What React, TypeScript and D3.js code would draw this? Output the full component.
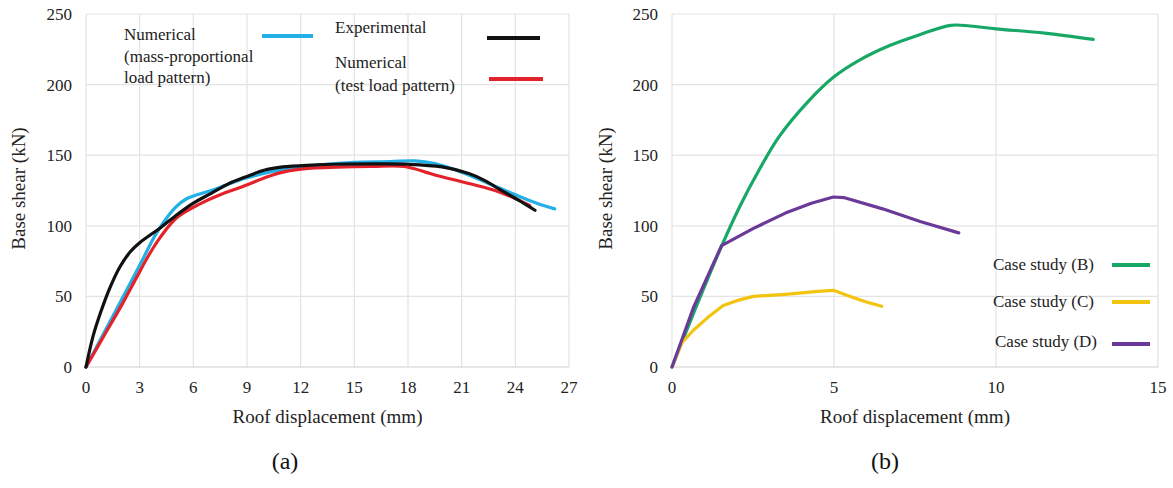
import React from "react";
import * as d3 from "d3";

// ---------- Data: chart (a) ----------
const expX = [0, 0.4, 0.8, 1.3, 1.9, 2.5, 3.0, 4.2, 5.0, 6.0, 7.0, 8.0, 9.0, 10.0, 11.0, 12.6, 14, 16, 18, 19.9, 21.4, 22.3, 23.1, 24.2, 25.1];
const expY = [0, 22, 38, 55, 71, 82, 88, 99, 107, 116, 123, 130, 135, 139.5, 141.7, 143, 143.6, 143.8, 143.6, 141.7, 137, 132, 126, 118, 111];

const massX = [0, 1, 2, 3, 4, 5, 5.6, 7, 9, 11, 13, 15, 17, 18.4, 19.5, 21, 22.5, 24, 25.2, 26.2];
const massY = [0, 24, 48, 72, 96, 113, 119, 125, 134, 140, 143, 145, 145.5, 146, 144, 138, 130, 122, 116, 112];

const testX = [0, 1, 2, 2.85, 3.5, 4.16, 5.1, 6.4, 7.5, 8.8, 10, 11, 12.6, 14, 16, 17.8, 19.5, 21.4, 23.1, 24.8];
const testY = [0, 22, 44, 64, 79, 92, 106, 115.7, 122, 128, 134, 138, 140.8, 141.5, 142, 142, 136, 130, 124, 114.5];

const xTicksA = [0, 3, 6, 9, 12, 15, 18, 21, 24, 27];
const yTicks = [0, 50, 100, 150, 200, 250];

// ---------- Data: chart (b) ----------
const bX = [0, 0.7, 1.5, 2.1, 2.7, 3.3, 4.2, 5.0, 5.8, 6.7, 7.6, 8.6, 9.2, 10, 11.5, 13.0];
const bY = [0, 40, 84, 114, 140, 163, 188, 205.5, 217.5, 227.5, 235, 242, 241.5, 239.5, 236.5, 232];

const cX = [0, 0.3, 0.66, 1.1, 1.58, 2.0, 2.51, 3.5, 4.5, 4.98, 5.5, 6.0, 6.47];
const cY = [0, 17, 26, 35, 43.6, 47, 50, 51.5, 53.5, 54.3, 50, 46, 43];

const dX = [0, 0.66, 1.53, 2.5, 3.5, 4.3, 4.98, 5.3, 6.5, 7.66, 8.85];
const dY = [0, 42, 86, 98, 109, 116, 120.4, 120, 112, 103, 95];

const xTicksB = [0, 5, 10, 15];

const FONT = "Liberation Serif, Times New Roman, Times, DejaVu Serif, serif";

type Series = { name: string; xs: number[]; ys: number[]; color: string; curve: d3.CurveFactory };

function Panel(props: {
  left: number; right: number; top: number; bottom: number;
  xMax: number; xTicks: number[]; series: Series[]; yTitleX: number;
}) {
  const { left, right, top, bottom, xMax, xTicks, series, yTitleX } = props;
  const x = d3.scaleLinear().domain([0, xMax]).range([left, right]);
  const y = d3.scaleLinear().domain([0, 250]).range([bottom, top]);
  return (
    <g>
      {xTicks.map((t) => (
        <line key={"gx" + t} x1={x(t)} x2={x(t)} y1={y(0)} y2={y(250)} stroke="#e3e3e3" strokeWidth={1.2} />
      ))}
      {yTicks.map((t) => (
        <line key={"gy" + t} x1={x(0)} x2={x(xMax)} y1={y(t)} y2={y(t)} stroke={t === 0 ? "#cfcfcf" : "#e3e3e3"} strokeWidth={1.2} />
      ))}
      {yTicks.map((t) => (
        <text key={"ty" + t} x={left - 14} y={y(t)} dy="0.35em" textAnchor="end" style={{ fontFamily: FONT }} fontSize={17} fill="#222">{t}</text>
      ))}
      {xTicks.map((t) => (
        <text key={"tx" + t} x={x(t)} y={bottom + 20} dy="0.35em" textAnchor="middle" style={{ fontFamily: FONT }} fontSize={17} fill="#222">{t}</text>
      ))}
      {series.map((s) => {
        const pts: [number, number][] = s.xs.map((v, i) => [x(v), y(s.ys[i])]);
        const line = d3.line().curve(s.curve)(pts) || "";
        return <path key={s.name} d={line} fill="none" stroke={s.color} strokeWidth={3.2} strokeLinejoin="round" strokeLinecap="round" />;
      })}
      <text x={(left + right) / 2} y={bottom + 49} dy="0.35em" textAnchor="middle" style={{ fontFamily: FONT }} fontSize={19} fill="#222">Roof displacement (mm)</text>
      <text transform={`translate(${yTitleX},${(top + bottom) / 2 - 2}) rotate(-90)`} dy="0.35em" textAnchor="middle" style={{ fontFamily: FONT }} fontSize={19} fill="#222">Base shear (kN)</text>
    </g>
  );
}

export default function App() {
  const blue = "#22b0e6";
  const black = "#111111";
  const red = "#e3222b";
  const green = "#18a865";
  const yellow = "#f2c40f";
  const purple = "#6b3a98";
  const seriesA: Series[] = [
    { name: "mass", xs: massX, ys: massY, color: blue, curve: d3.curveCatmullRom },
    { name: "test", xs: testX, ys: testY, color: red, curve: d3.curveCatmullRom },
    { name: "exp", xs: expX, ys: expY, color: black, curve: d3.curveCatmullRom },
  ];
  const seriesB: Series[] = [
    { name: "B", xs: bX, ys: bY, color: green, curve: d3.curveCatmullRom },
    { name: "C", xs: cX, ys: cY, color: yellow, curve: d3.curveLinear },
    { name: "D", xs: dX, ys: dY, color: purple, curve: d3.curveLinear },
  ];
  const txt = { style: { fontFamily: FONT }, fontSize: 17, fill: "#222" } as const;
  return (
    <svg width={1173} height={488} style={{ position: "absolute", left: 0, top: 0, background: "#fff" }}>
      <rect width={1173} height={488} fill="#fff" />
      <Panel left={86} right={569} top={14} bottom={367} xMax={27} xTicks={xTicksA} series={seriesA} yTitleX={18} />
      <Panel left={672} right={1158} top={14} bottom={367} xMax={15} xTicks={xTicksB} series={seriesB} yTitleX={605} />

      {/* Legend (a) */}
      <text x={124} y={40} {...txt}>Numerical</text>
      <text x={124} y={62} {...txt}>(mass-proportional</text>
      <text x={124} y={83} {...txt}>load pattern)</text>
      <line x1={262} x2={313} y1={36} y2={36} stroke={blue} strokeWidth={4} />
      <text x={335} y={33} {...txt}>Experimental</text>
      <line x1={487} x2={540} y1={38} y2={38} stroke={black} strokeWidth={4} />
      <text x={335} y={68} {...txt}>Numerical</text>
      <text x={335} y={91} {...txt}>(test load pattern)</text>
      <line x1={489} x2={543} y1={79} y2={79} stroke={red} strokeWidth={4} />

      {/* Legend (b) */}
      <text x={1094} y={270} textAnchor="end" {...txt}>Case study (B)</text>
      <line x1={1112} x2={1150} y1={265} y2={265} stroke={green} strokeWidth={4} />
      <text x={1094} y={307} textAnchor="end" {...txt}>Case study (C)</text>
      <line x1={1112} x2={1150} y1={302} y2={302} stroke={yellow} strokeWidth={4} />
      <text x={1097} y={347} textAnchor="end" {...txt}>Case study (D)</text>
      <line x1={1112} x2={1150} y1={344} y2={344} stroke={purple} strokeWidth={4} />

      <text x={285} y={461} dy="0.35em" textAnchor="middle" style={{ fontFamily: FONT }} fontSize={24} fill="#111">(a)</text>
      <text x={885} y={461} dy="0.35em" textAnchor="middle" style={{ fontFamily: FONT }} fontSize={24} fill="#111">(b)</text>
    </svg>
  );
}
